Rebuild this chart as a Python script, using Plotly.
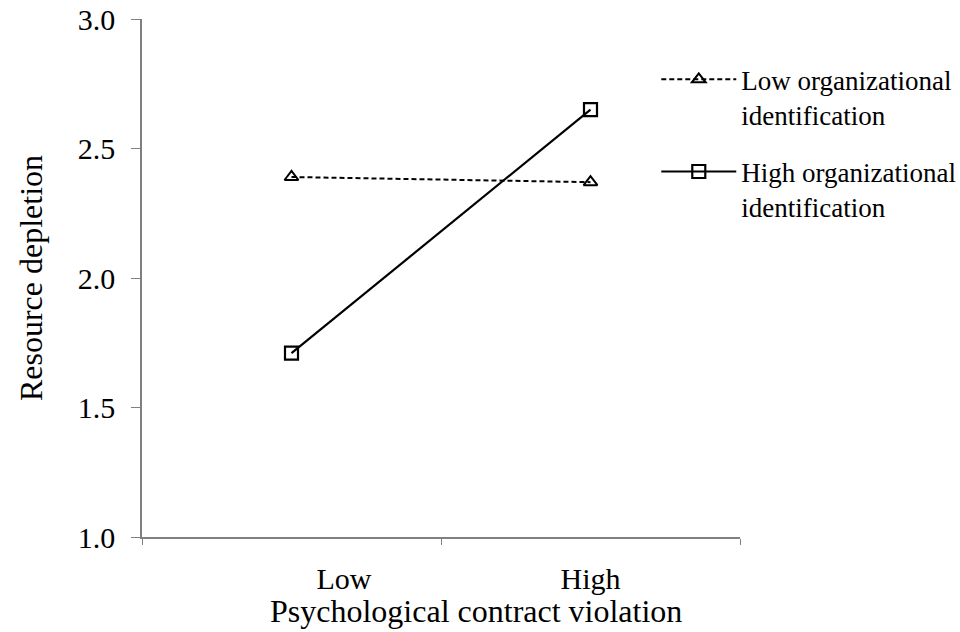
import plotly.graph_objects as go

categories = ["Low", "High"]
low_org_id = [2.39, 2.37]
high_org_id = [1.71, 2.65]
series_names = ["Low organizational<br>identification", "High organizational<br>identification"]
NB = "\u00a0"
tick_labels = [NB * 14 + "Low", "High"]
x_title = "Psychological contract violation"
y_title = "Resource depletion"

FONT = "Liberation Serif, Times New Roman, serif"
AXIS_GREY = "#808080"

fig = go.Figure()
fig.add_trace(go.Scatter(
    x=categories, y=low_org_id, name=series_names[0], mode="lines+markers",
    legendgroup="low",
    line=dict(color="black", width=2, dash="5px,3px"),
    marker=dict(symbol="triangle-up-open", size=12, color="black", line=dict(width=2, color="black")),
))
fig.add_trace(go.Scatter(
    x=categories, y=high_org_id, name=series_names[1], mode="lines+markers",
    legendgroup="high",
    line=dict(color="black", width=2.2),
    marker=dict(symbol="square-open", size=13, color="black", line=dict(width=2.2, color="black")),
))

fig.update_layout(
    width=960, height=632,
    paper_bgcolor="white", plot_bgcolor="white",
    margin=dict(l=142, r=220, t=19, b=95, autoexpand=False),
    font=dict(family=FONT, color="black", size=30),
    showlegend=True,
    legend=dict(
        x=0.86, xanchor="left", y=0.93, yanchor="top",
        font=dict(family=FONT, size=27, color="black"),
        itemwidth=75, valign="top", tracegroupgap=19,
        bgcolor="rgba(0,0,0,0)",
    ),
    xaxis=dict(
        type="category", range=[-0.5, 1.5], automargin=False,
        tickmode="array", tickvals=categories, ticktext=tick_labels,
        showline=True, linecolor=AXIS_GREY, linewidth=1.5,
        ticks="outside", tickson="boundaries", ticklen=6, tickcolor=AXIS_GREY,
        showgrid=False, zeroline=False,
        tickfont=dict(size=30), ticklabelstandoff=14,
    ),
    yaxis=dict(
        range=[1, 3], dtick=0.5, tickformat=".1f", automargin=False,
        showline=True, linecolor=AXIS_GREY, linewidth=1.5,
        ticks="outside", ticklen=9, tickcolor=AXIS_GREY,
        showgrid=False, zeroline=False,
        tickfont=dict(size=30), ticklabelstandoff=10,
        title=dict(text=y_title, font=dict(size=32), standoff=26),
    ),
    annotations=[dict(
        text=x_title, xref="paper", yref="paper", x=0.5, y=0,
        xanchor="center", yanchor="top", xshift=35, yshift=-54,
        showarrow=False, font=dict(family=FONT, size=32, color="black"),
    )],
)

fig.write_html(
    "out.html",
    config={"displayModeBar": False},
    post_script="document.body.style.margin='0px';document.body.style.overflow='hidden';",
)
